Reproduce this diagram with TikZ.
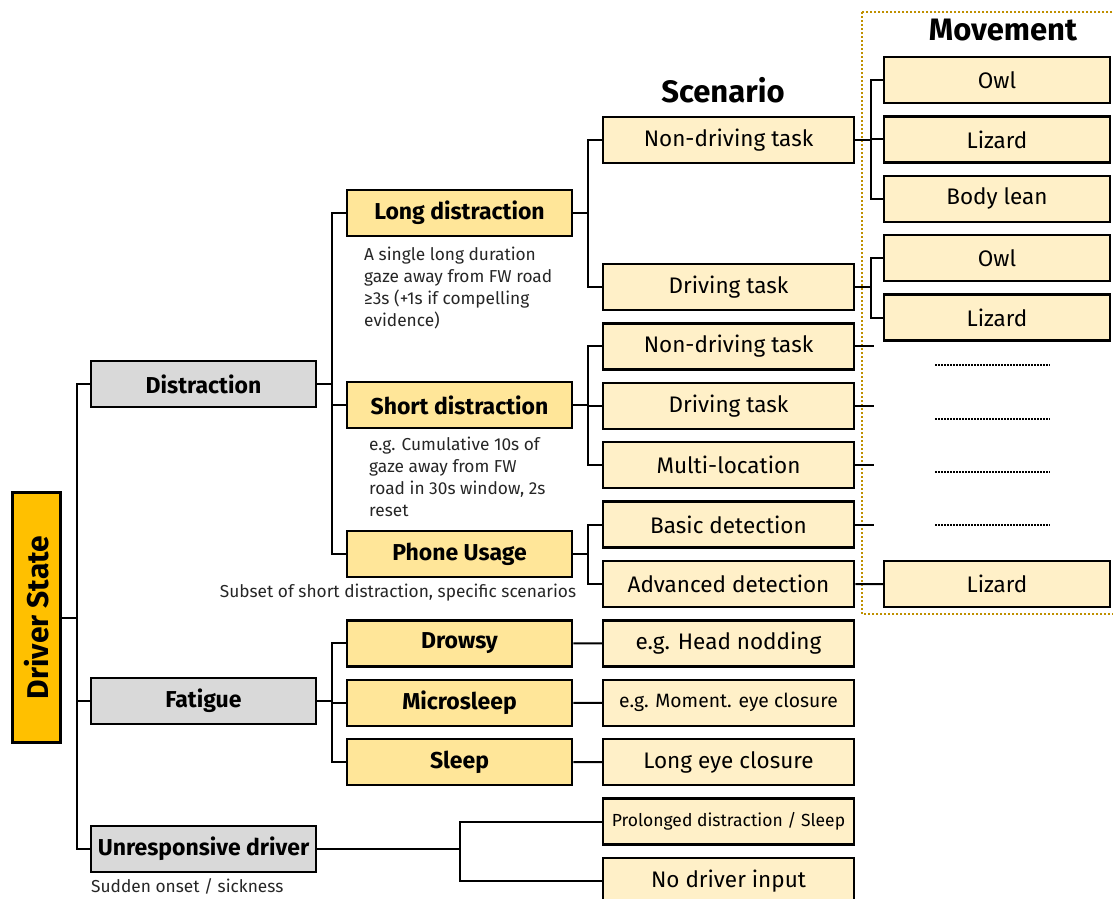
\documentclass[tikz,border=0pt]{standalone}
\usepackage{fontspec}
\setmainfont{Fira Sans}
\usepackage{xcolor}
\definecolor{stateorange}{HTML}{FFC000}
\definecolor{groupgrey}{HTML}{D9D9D9}
\definecolor{kindyellow}{HTML}{FFE699}
\definecolor{leafcream}{HTML}{FFF0C8}
\definecolor{framegold}{HTML}{BF9000}

\begin{document}
\begin{tikzpicture}[x=1pt, y=-1pt, node distance=59.4pt,
  box/.style={rectangle, draw, line width=2.5pt, minimum height=46pt, align=center, inner sep=2pt},
  state/.style={box, line width=3pt, fill=stateorange, minimum width=48pt, minimum height=250pt, font=\fontsize{30}{32}\selectfont\bfseries},
  group/.style={box, fill=groupgrey, minimum width=225pt, font=\fontsize{23}{26}\selectfont\bfseries},
  kind/.style={box, fill=kindyellow, minimum width=225pt, font=\fontsize{23}{26}\selectfont\bfseries},
  scene/.style={box, fill=leafcream, minimum width=251pt, font=\fontsize{22.5}{26}\selectfont},
  move/.style={box, fill=leafcream, minimum width=226pt, font=\fontsize{22.5}{26}\selectfont},
  title/.style={font=\fontsize{31}{34}\selectfont\bfseries},
  note/.style={align=left, inner sep=0pt, text=black!85, font=\fontsize{17.3}{22}\selectfont},
  link/.style={line width=2pt}]
\useasboundingbox (0,0) rectangle (1113,898);

% titles
\node[title] (scenario) at (723,90) {Scenario};
\node[title] (movement) at (1003,30) {Movement};

% root and groups
\node[state] (state) at (36.5,617.5) {\rotatebox{90}{Driver State}};
\node[group] (distraction) at (203.5,384) {Distraction};
\node[group] (fatigue) at (203.5,701) {Fatigue};
\node[group] (unresponsive) at (203.5,849) {Unresponsive driver};

% kinds
\node[kind] (longdist) at (459.5,213) {Long distraction};
\node[kind] (shortdist) at (459.5,405) {Short distraction};
\node[kind] (phone) at (459.5,554) {Phone Usage};
\node[kind] (drowsy) at (459.5,643.4) {Drowsy};
\node[kind] (microsleep) [below of=drowsy] {Microsleep};
\node[kind] (sleep) [below of=microsleep] {Sleep};

% scenarios
\node[scene] (ndtaskA) at (728.5,140) {Non-driving task};
\node[scene] (dtaskA) at (728.5,287) {Driving task};
\node[scene] (ndtaskB) [below of=dtaskA] {Non-driving task};
\node[scene] (dtaskB) [below of=ndtaskB] {Driving task};
\node[scene] (multiloc) [below of=dtaskB] {Multi-location};
\node[scene] (basic) [below of=multiloc] {Basic detection};
\node[scene] (advanced) [below of=basic] {Advanced detection};
\node[scene] (nodding) [below of=advanced] {e.g. Head nodding};
\node[scene, font=\fontsize{19.3}{22}\selectfont] (closure) [below of=nodding] {e.g. Moment. eye closure};
\node[scene] (longclosure) [below of=closure] {Long eye closure};
\node[scene, font=\fontsize{17.5}{22}\selectfont] (prolonged) [below of=longclosure] {Prolonged distraction / Sleep};
\node[scene] (noinput) [below of=prolonged] {No driver input};

% movements
\node[move] (owlA) at (997,80) {Owl};
\node[move] (lizardA) [below of=owlA] {Lizard};
\node[move] (leanA) [below of=lizardA] {Body lean};
\node[move] (owlB) [below of=leanA] {Owl};
\node[move] (lizardB) [below of=owlB] {Lizard};
\node[move] (lizardC) at (997,584) {Lizard};

% notes
\node[note, anchor=north west] (longnote) at (364,247) {A single long duration\\gaze away from FW road\\≥3s (+1s if compelling\\evidence)};
\node[note, anchor=north west] (shortnote) at (369,437) {e.g. Cumulative 10s of\\gaze away from FW\\road in 30s window, 2s\\reset};
\node[note] (phonenote) at (398,593) {Subset of short distraction, specific scenarios};
\node[note, anchor=west] (unrespnote) at (91,886) {Sudden onset / sickness};

% frame round the movements
\draw[framegold, line width=2pt, dash pattern=on 2pt off 2pt] (862,12) rectangle (1125,614);

% connectors
\foreach \n in {distraction,fatigue,unresponsive}
  \draw[link] (state.east) -- ++(15,0) |- (\n.west);
\foreach \n in {longdist,shortdist,phone}
  \draw[link] (distraction.east) -- ++(15,0) |- (\n.west);
\foreach \n in {drowsy,microsleep,sleep}
  \draw[link] (fatigue.east) -- ++(15,0) |- (\n.west);
\foreach \n in {prolonged,noinput}
  \draw[link] (unresponsive.east) -- ++(143,0) |- (\n.west);
\foreach \n in {ndtaskA,dtaskA}
  \draw[link] (longdist.east) -- ++(15,0) |- (\n.west);
\foreach \n in {ndtaskB,dtaskB,multiloc}
  \draw[link] (shortdist.east) -- ++(15,0) |- (\n.west);
\foreach \n in {basic,advanced}
  \draw[link] (phone.east) -- ++(15,0) |- (\n.west);
\draw[link] (drowsy.east) -- (nodding.west);
\draw[link] (microsleep.east) -- (closure.west);
\draw[link] (sleep.east) -- (longclosure.west);
\foreach \n in {owlA,lizardA,leanA}
  \draw[link] (ndtaskA.east) -- ++(16,0) |- (\n.west);
\foreach \n in {owlB,lizardB}
  \draw[link] (dtaskA.east) -- ++(16,0) |- (\n.west);
\draw[link] (advanced.east) -- (lizardC.west);

% open ends, movements still to come
\foreach \n in {ndtaskB,dtaskB,multiloc,basic} {
  \coordinate (\n stub) at ([xshift=19pt]\n.east);
  \draw[link] (\n.east) -- (\n stub);
}
\foreach \y in {365,419,472,525}
  \draw[line width=2.5pt, dash pattern=on 1.5pt off 1.5pt] (935,\y) -- (1050,\y);
\end{tikzpicture}
\end{document}
